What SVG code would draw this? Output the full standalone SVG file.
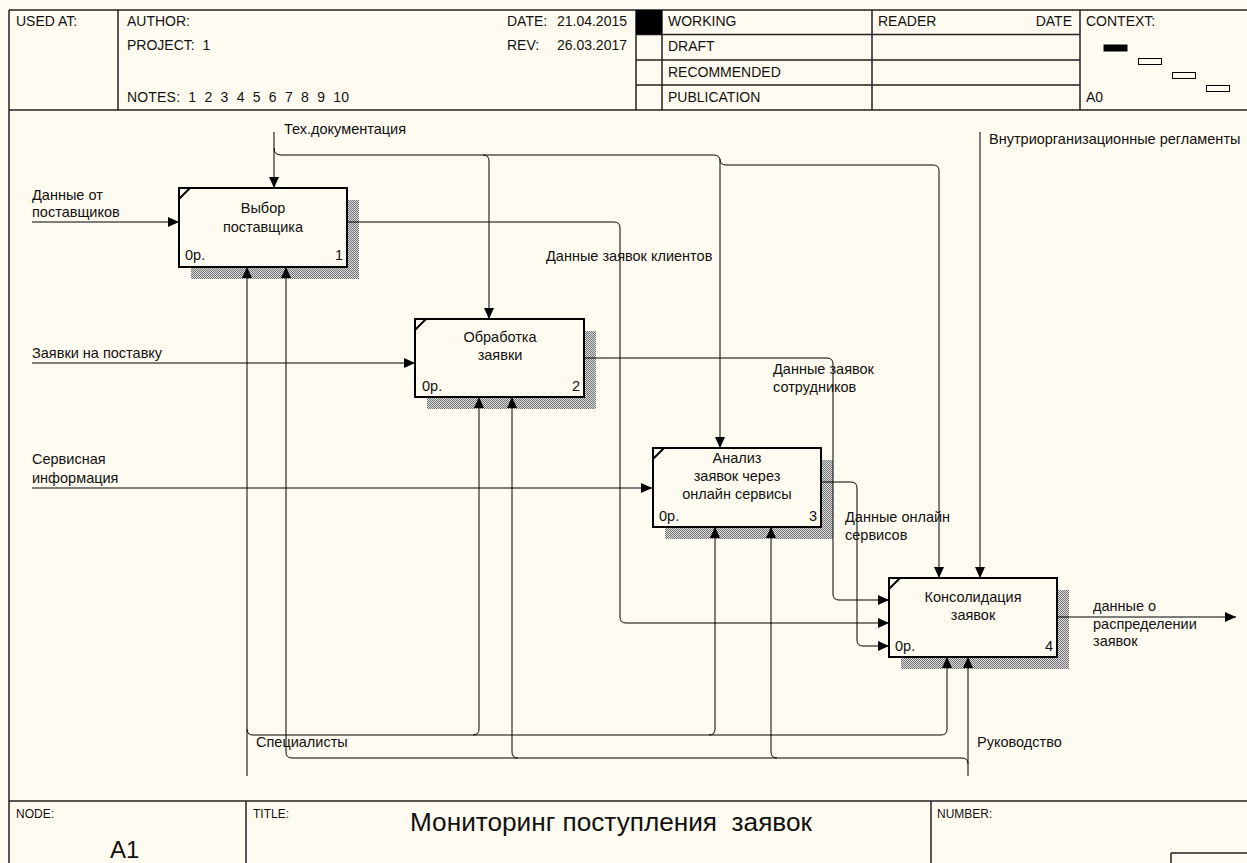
<svg xmlns="http://www.w3.org/2000/svg" width="1247" height="863" viewBox="0 0 1247 863">
  <style>
    .frame{fill:none;stroke:#222;stroke-width:1.5}
    .t{font-family:"Liberation Sans",Arial,sans-serif;font-size:14.5px;fill:#111}
    .h{font-family:"Liberation Sans",Arial,sans-serif;font-size:14px;fill:#111}
    .f{font-family:"Liberation Sans",Arial,sans-serif;font-size:12px;fill:#111}
    .box{fill:#fffbf0;stroke:#000;stroke-width:2}
    .shadow{fill:url(#dots)}
    .c{fill:none;stroke:#000;stroke-width:1}
    .a{marker-end:url(#arr)}
    .mid{text-anchor:middle}
    .end{text-anchor:end}
  </style>
  <defs>
    <pattern id="dots" width="2" height="2" patternUnits="userSpaceOnUse">
      <rect width="2" height="2" fill="#dcdcdc"/>
      <rect width="1" height="1" fill="#747474"/>
      <rect x="1" y="1" width="1" height="1" fill="#747474"/>
    </pattern>
    <marker id="arr" markerUnits="userSpaceOnUse" markerWidth="12" markerHeight="10" refX="11" refY="5" orient="auto">
      <path d="M0,0 L11,5 L0,10 z" fill="#000"/>
    </marker>
  </defs>

  <rect width="1247" height="863" fill="#fffbf0"/>

  <!-- header block -->
  <g id="header">
    <path class="frame" d="M9,10 H1250 M9,10 V863 M9,110 H1250 M118,10 V110 M636,10 V110 M662,10 V110 M872,10 V110 M1080,10 V110 M636,34.5 H1080 M636,60 H1080 M636,85 H1080"/>
    <rect x="636" y="10" width="26" height="24.5" fill="#000"/>
    <text class="h" x="16" y="26">USED AT:</text>
    <text class="h" x="127" y="26">AUTHOR:</text>
    <text class="h" x="127" y="50" xml:space="preserve">PROJECT:  1</text>
    <text class="h" x="127" y="102" xml:space="preserve" textLength="222" lengthAdjust="spacing">NOTES:  1  2  3  4  5  6  7  8  9  10</text>
    <text class="h" x="507" y="26">DATE:</text>
    <text class="h" x="627" y="26" text-anchor="end">21.04.2015</text>
    <text class="h" x="507" y="50">REV:</text>
    <text class="h" x="627" y="50" text-anchor="end">26.03.2017</text>
    <text class="h" x="668" y="26">WORKING</text>
    <text class="h" x="668" y="51">DRAFT</text>
    <text class="h" x="668" y="77">RECOMMENDED</text>
    <text class="h" x="668" y="102">PUBLICATION</text>
    <text class="h" x="878" y="26">READER</text>
    <text class="h" x="1072" y="26" text-anchor="end">DATE</text>
    <text class="h" x="1086" y="26">CONTEXT:</text>
    <text class="h" x="1086" y="102">A0</text>
    <rect x="1103.5" y="44.5" width="24" height="7" fill="#000"/>
    <rect x="1138.5" y="58.5" width="23" height="6" fill="none" stroke="#000"/>
    <rect x="1172.5" y="72.5" width="23" height="6" fill="none" stroke="#000"/>
    <rect x="1206.5" y="85.5" width="23" height="6" fill="none" stroke="#000"/>
  </g>

  <!-- footer block -->
  <g id="footer">
    <path class="frame" d="M9,801 H1250 M246,801 V863 M931,801 V863 M1171,853 H1250 M1171,853 V863"/>
    <text class="f" x="16" y="818">NODE:</text>
    <text class="f" x="253" y="818">TITLE:</text>
    <text class="f" x="937" y="818">NUMBER:</text>
    <text x="611" y="831" text-anchor="middle" textLength="402" lengthAdjust="spacingAndGlyphs" xml:space="preserve" style="font-family:'Liberation Sans',Arial,sans-serif;font-size:25px;fill:#111">Мониторинг поступления  заявок</text>
    <text x="110" y="858" style="font-family:'Liberation Sans',Arial,sans-serif;font-size:24px;fill:#111">A1</text>
  </g>

  <!-- activity boxes -->
  <g id="node1">
    <rect class="shadow" x="191" y="200" width="168" height="79"/>
    <rect class="box" x="179" y="188" width="168" height="79"/>
    <path d="M179,199 L190,188" stroke="#000" stroke-width="2"/>
    <text class="t mid" x="263" y="213">Выбор</text>
    <text class="t mid" x="263" y="232">поставщика</text>
    <text class="t" x="185" y="260">0р.</text>
    <text class="t end" x="343" y="260">1</text>
  </g>
  <g id="node2">
    <rect class="shadow" x="427" y="331" width="169" height="78"/>
    <rect class="box" x="415" y="319" width="169" height="78"/>
    <path d="M415,330 L426,319" stroke="#000" stroke-width="2"/>
    <text class="t mid" x="500" y="342">Обработка</text>
    <text class="t mid" x="500" y="360">заявки</text>
    <text class="t" x="422" y="391">0р.</text>
    <text class="t end" x="580" y="391">2</text>
  </g>
  <g id="node3">
    <rect class="shadow" x="665" y="460" width="168" height="79"/>
    <rect class="box" x="653" y="448" width="168" height="79"/>
    <path d="M653,459 L664,448" stroke="#000" stroke-width="2"/>
    <text class="t mid" x="737" y="463">Анализ</text>
    <text class="t mid" x="737" y="481">заявок через</text>
    <text class="t mid" x="737" y="499">онлайн сервисы</text>
    <text class="t" x="659" y="521">0р.</text>
    <text class="t end" x="817" y="521">3</text>
  </g>
  <g id="node4">
    <rect class="shadow" x="901" y="590" width="168" height="79"/>
    <rect class="box" x="889" y="578" width="168" height="79"/>
    <path d="M889,589 L900,578" stroke="#000" stroke-width="2"/>
    <text class="t mid" x="973" y="602">Консолидация</text>
    <text class="t mid" x="973" y="620">заявок</text>
    <text class="t" x="895" y="651">0р.</text>
    <text class="t end" x="1053" y="651">4</text>
  </g>

  <!-- connectors -->
  <g id="connectors">
    <!-- inputs -->
    <path class="c a" d="M32,222 H179"/>
    <path class="c a" d="M32,363 H415"/>
    <path class="c a" d="M32,488 H652"/>
    <!-- controls -->
    <path class="c a" d="M274,132 V188"/>
    <path class="c a" d="M274,148 Q274,155 281,155 H714 Q720,155 720,161 V448"/>
    <path class="c a" d="M483,155 Q489,155 489,161 V319"/>
    <path class="c a" d="M720,159 Q720,165 726,165 H933 Q939,165 939,171 V578"/>
    <path class="c a" d="M980,132 V578"/>
    <!-- outputs -->
    <path class="c a" d="M347,222 H614 Q620,222 620,228 V617 Q620,623 626,623 H889"/>
    <path class="c a" d="M584,358 H827 Q833,358 833,364 V594 Q833,600 839,600 H889"/>
    <path class="c a" d="M821,482 H851 Q857,482 857,488 V640 Q857,646 863,646 H889"/>
    <path class="c a" d="M1057,617 H1236"/>
    <!-- mechanisms -->
    <path class="c a" d="M247,776 V267"/>
    <path class="c a" d="M247,729 Q247,735 253,735 H941 Q947,735 947,729 V657"/>
    <path class="c a" d="M473,735 Q479,735 479,729 V397"/>
    <path class="c a" d="M709,735 Q715,735 715,729 V527"/>
    <path class="c a" d="M968,776 V657"/>
    <path class="c a" d="M968,764 Q968,758 962,758 H292 Q286,758 286,752 V267"/>
    <path class="c a" d="M518,758 Q512,758 512,752 V397"/>
    <path class="c a" d="M777,758 Q771,758 771,752 V527"/>
  </g>

  <!-- connector labels -->
  <g id="labels">
    <text class="t" x="32" y="200">Данные от</text>
    <text class="t" x="32" y="217">поставщиков</text>
    <text class="t" x="32" y="358">Заявки на поставку</text>
    <text class="t" x="32" y="464">Сервисная</text>
    <text class="t" x="32" y="483">информация</text>
    <text class="t" x="284" y="134">Тех.документация</text>
    <text class="t" x="989" y="144">Внутриорганизационные регламенты</text>
    <text class="t" x="546" y="261">Данные заявок клиентов</text>
    <text class="t" x="773" y="374">Данные заявок</text>
    <text class="t" x="773" y="392">сотрудников</text>
    <text class="t" x="845" y="522">Данные онлайн</text>
    <text class="t" x="845" y="540">сервисов</text>
    <text class="t" x="1093" y="611">данные о</text>
    <text class="t" x="1093" y="629">распределении</text>
    <text class="t" x="1093" y="646">заявок</text>
    <text class="t" x="256" y="747">Специалисты</text>
    <text class="t" x="977" y="747">Руководство</text>
  </g>
</svg>
